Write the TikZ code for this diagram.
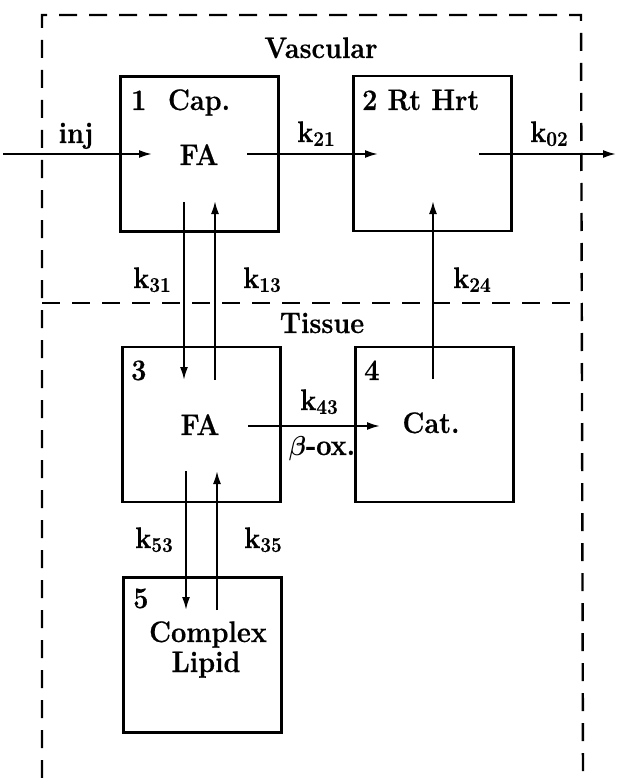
\documentclass[tikz,border=0pt]{standalone}
\usepackage{fontspec}
\setmainfont{Latin Modern Roman}[BoldFeatures={FakeBold=0.6}]
\usetikzlibrary{arrows.meta}
\newcommand{\T}[1]{\scalebox{1}[1.1]{#1}}
\newcommand{\kk}[1]{\T{k\raisebox{-3.5pt}{\fontsize{19}{20}\selectfont #1}}}
\begin{document}
\begin{tikzpicture}[x=1pt,y=-1pt,
  font=\fontsize{27}{31}\selectfont\bfseries,
  comp/.style={draw,line width=2.6pt,inner sep=0pt,minimum width=158pt,minimum height=155pt},
  flow/.style={line width=2pt,-{Latex[length=13pt,width=8pt]}},
  region/.style={line width=2.4pt,dash pattern=on 18pt off 12pt},
  lbl/.style={anchor=base,inner sep=0pt},
  lblw/.style={anchor=base west,inner sep=0pt}]
\useasboundingbox (0,0) rectangle (616,778);
% regions
\coordinate (rBL) at (42,778);
\coordinate (rTL) at (42,15);
\coordinate (rTR) at (581,15);
\coordinate (rBR) at (583,778);
\coordinate (dL) at (42,303);
\coordinate (dR) at (582,303);
\draw[region] (rBL) -- (rTL) -- (rTR) -- (rBR);
\draw[region] (dL) -- (dR);
\node[lbl] (vasc) at (321,58) {\T{Vascular}};
\node[lbl] (tiss) at (322,333) {\T{Tissue}};
% compartments
\node[comp] (c1) at (199.5,154) {};
\node[comp] (c2) at (432.5,153.5) {};
\node[comp] (c3) at (201.5,424.5) {};
\node[comp] (c4) at (434.5,424.5) {};
\node[comp] (c5) at (202.5,655) {};
% compartment texts
\node[lblw] (n1) at (131,110) {\T{1\hspace{0.8em}Cap.}};
\node[lbl] (fa1) at (199,165) {\T{FA}};
\node[lblw] (n2) at (362,110) {\T{2 Rt Hrt}};
\node[lblw] (n3) at (131,380) {\T{3}};
\node[lblw] (n4) at (364,380) {\T{4}};
\node[lbl] (fa3) at (200,435) {\T{FA}};
\node[lbl] (cat) at (431,433) {\T{Cat.}};
\node[lblw] (n5) at (133,608) {\T{5}};
\node[lbl] (cplx) at (208,642) {\T{Complex}};
\node[lbl] (lip) at (206,672) {\T{Lipid}};
% connector end points
\coordinate (injS) at (3,154);
\coordinate (injE) at (152,154);
\coordinate (k21S) at (247,154);
\coordinate (k21E) at (378,154);
\coordinate (k02S) at (479,154);
\coordinate (k02E) at (616,154);
\coordinate (k31S) at (184,202);
\coordinate (k31E) at (184,380);
\coordinate (k13S) at (215,380);
\coordinate (k13E) at (215,201);
\coordinate (k24S) at (433,379);
\coordinate (k24E) at (433,201);
\coordinate (k43S) at (248,426);
\coordinate (k43E) at (380,426);
\coordinate (k53S) at (186,471);
\coordinate (k53E) at (186,610);
\coordinate (k35S) at (217,610);
\coordinate (k35E) at (217,471);
% connectors
\draw[flow] (injS) -- (injE);
\draw[flow] (k21S) -- (k21E);
\draw[flow] (k02S) -- (k02E);
\draw[flow] (k31S) -- (k31E);
\draw[flow] (k13S) -- (k13E);
\draw[flow] (k24S) -- (k24E);
\draw[flow] (k43S) -- (k43E);
\draw[flow] (k53S) -- (k53E);
\draw[flow] (k35S) -- (k35E);
% rate labels
\node[lbl] (linj) at (76,143) {\T{inj}};
\node[lbl] (l21) at (316,142) {\kk{21}};
\node[lbl] (l02) at (549,142) {\kk{02}};
\node[lbl] (l31) at (152,288) {\kk{31}};
\node[lbl] (l13) at (262,288) {\kk{13}};
\node[lbl] (l24) at (472,288) {\kk{24}};
\node[lbl] (l43) at (319,410) {\kk{43}};
\node[lbl] (lbox) at (322,455) {\T{{\boldmath$\beta$}-ox.}};
\node[lbl] (l53) at (154,548) {\kk{53}};
\node[lbl] (l35) at (263,548) {\kk{35}};
\end{tikzpicture}
\end{document}
